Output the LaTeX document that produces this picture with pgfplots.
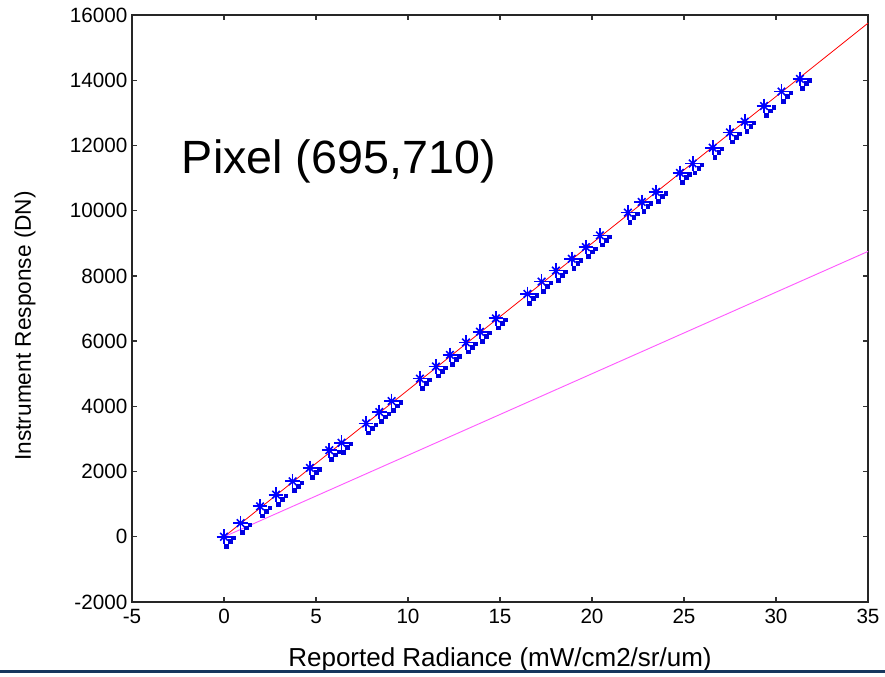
\documentclass[border=0pt]{standalone}
\usepackage{pgfplots}
\usepackage{pgfplotstable}
\pgfplotsset{compat=1.18}
\usepackage{fontspec}
\setmainfont{Liberation Sans}
\definecolor{navybar}{RGB}{23,55,94}
\definecolor{fitmag}{RGB}{255,90,255}
\definecolor{ptblue}{RGB}{0,0,255}
\definecolor{dkblue}{RGB}{0,0,225}
\pgfplotstableread{
x y
0.00 0
0.90 420
1.96 933
2.83 1292
3.73 1702
4.67 2113
5.72 2655
6.39 2882
7.72 3477
8.44 3825
9.11 4163
10.65 4850
11.52 5221
12.28 5578
13.15 5959
13.91 6286
14.78 6698
16.49 7446
17.26 7825
18.04 8163
18.90 8523
19.67 8883
20.43 9240
21.95 9940
22.70 10267
23.48 10575
24.78 11160
25.47 11446
26.56 11929
27.50 12400
28.30 12729
29.35 13209
30.30 13652
31.30 14040
}\pts
\pgfplotstableread{
x y
0 0
35 15750
}\fitred
\pgfplotstableread{
x y
0 0
35 8750
}\fitmagt
\begin{document}
\begin{tikzpicture}
\begin{axis}[name=ax, scale only axis, width=552pt, height=440.25pt,
  xmin=-5, xmax=35, ymin=-2000, ymax=16000,
  xtick={-5,0,5,10,15,20,25,30,35},
  ytick={-2000,0,2000,4000,6000,8000,10000,12000,14000,16000},
  scaled ticks=false,
  tick align=inside, major tick length=4pt,
  axis line style={black!85, line width=1.1pt},
  tick style={black!80, line width=1pt},
  tick label style={font=\fontsize{15.5}{15.5}\selectfont},
  xticklabel style={yshift=-2pt},
  /pgf/number format/assume math mode=true,
  /pgf/number format/1000 sep={},
  clip=false]
\addplot[red, line width=0.6pt] table {\fitred};
\addplot[fitmag, line width=0.7pt] table {\fitmagt};
\addplot[only marks, mark=square*, color=dkblue, mark size=1.4pt,
  every mark/.append style={xshift=4.5pt, yshift=-3.5pt}] table {\pts};
\addplot[only marks, mark=square*, color=dkblue, mark size=1.4pt,
  every mark/.append style={xshift=1.5pt, yshift=-7pt}] table {\pts};
\addplot[only marks, mark=square*, color=dkblue, mark size=1.2pt,
  every mark/.append style={xshift=7pt, yshift=-1pt}] table {\pts};
\addplot[only marks, mark=+, color=ptblue, mark size=5.5pt,
  line width=1.3pt] table {\pts};
\addplot[only marks, mark=x, color=ptblue, mark size=4pt,
  line width=1.2pt] table {\pts};
\node[anchor=west, inner sep=0pt, font=\fontsize{35}{35}\selectfont] at (axis cs:-2.3,11500) {Pixel (695,710)};
\end{axis}
\node[font=\fontsize{19.5}{19.5}\selectfont] at ([yshift=-43.5pt]ax.south) {Reported Radiance (mW/cm2/sr/um)};
\node[font=\fontsize{17}{17}\selectfont, rotate=90] at ([xshift=-80.25pt,yshift=-13pt]ax.west) {Instrument Response (DN)};
\path[use as bounding box] ([xshift=-99pt,yshift=-53.25pt]ax.south west) rectangle ([xshift=12.75pt,yshift=11.25pt]ax.north east);
\fill[navybar] ([xshift=-99pt,yshift=-53.25pt]ax.south west) rectangle ([xshift=12.75pt,yshift=-51pt]ax.south east);
\end{tikzpicture}
\end{document}
